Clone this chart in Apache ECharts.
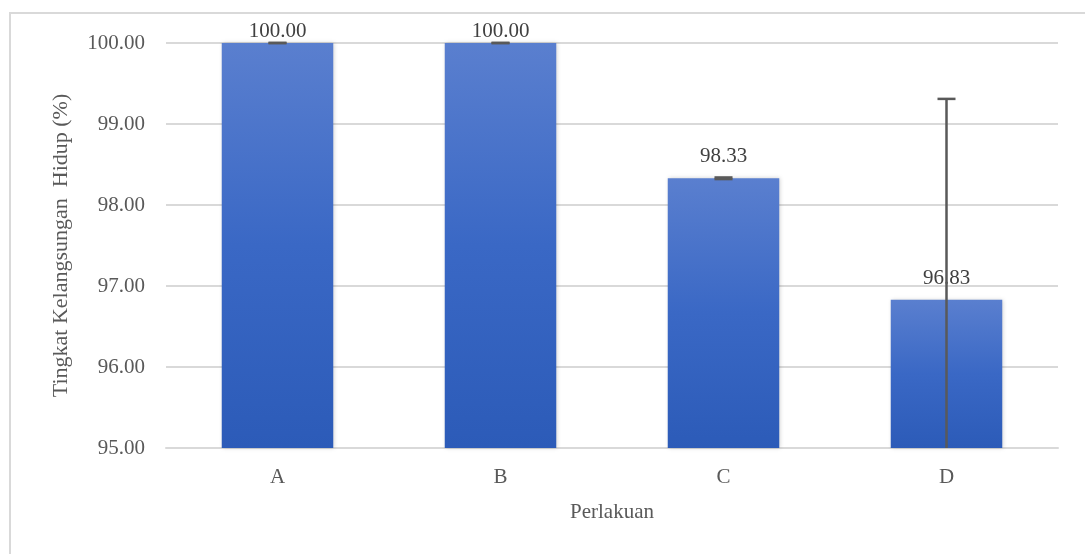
<!DOCTYPE html>
<html>
<head>
<meta charset="utf-8">
<script src="https://cdn.jsdelivr.net/npm/echarts@6/dist/echarts.min.js"></script>
<style>
  html, body { margin: 0; padding: 0; background: #fff; }
  #main { width: 1085px; height: 554px; }
</style>
</head>
<body>
<div id="main"></div>
<script>
// data
var perlakuan = ['A', 'B', 'C', 'D'];
var nilaiSR = [100.00, 100.00, 98.33, 96.83];
var galat = [0, 0, 0.01, 2.48];
var tickY = [95, 96, 97, 98, 99, 100];

var yMin = tickY[0], yMax = tickY[tickY.length - 1];
var fontSerif = '"Liberation Serif", "DejaVu Serif", serif';
var abu = '#595959';

var barData = nilaiSR.map(function (v) {
    return {
        value: v,
        label: { distance: v >= yMax ? 1 : 11 }
    };
});

var errData = nilaiSR.map(function (v, i) {
    return [i, v, galat[i]];
});

function gambarGalat(params, api) { // error bar: garis vertikal + cap atas
    var idx = api.value(0), v = api.value(1), e = api.value(2);
    var atas = api.coord([idx, Math.min(v + e, yMax + 1)]);
    var bawah = api.coord([idx, Math.max(v - e, yMin)]);
    var capW = 9;
    var gaya = { stroke: abu, lineWidth: 2.5 };
    var anak = [{
        type: 'line',
        shape: { x1: atas[0], y1: atas[1], x2: atas[0], y2: bawah[1] },
        style: gaya
    }, {
        type: 'line',
        shape: { x1: atas[0] - capW, y1: atas[1], x2: atas[0] + capW, y2: atas[1] },
        style: gaya
    }];
    if (v - e > yMin) {
        anak.push({
            type: 'line',
            shape: { x1: bawah[0] - capW, y1: bawah[1], x2: bawah[0] + capW, y2: bawah[1] },
            style: gaya
        });
    }
    return { type: 'group', children: anak };
}

var myChart = echarts.init(document.getElementById('main'), null, { renderer: 'canvas' });

var option = {
    backgroundColor: '#fff',
    animation: false,
    graphic: [{
        type: 'rect',
        shape: { x: 10, y: 13, width: 1100, height: 560 },
        style: { fill: 'none', stroke: '#d9d9d9', lineWidth: 2 },
        silent: true
    }],
    grid: { left: 166, right: 27, top: 43, bottom: 106 },
    xAxis: {
        type: 'category',
        data: perlakuan,
        name: 'Perlakuan',
        nameLocation: 'middle',
        nameGap: 54,
        nameTextStyle: { fontFamily: fontSerif, fontSize: 21, color: abu },
        axisLine: { show: true, lineStyle: { color: '#d9d9d9', width: 2 } },
        axisTick: { show: false },
        axisLabel: { fontFamily: fontSerif, fontSize: 21, color: abu, margin: 19 }
    },
    yAxis: {
        type: 'value',
        min: yMin,
        max: yMax,
        interval: 1,
        name: 'Tingkat Kelangsungan  Hidup (%)',
        nameLocation: 'middle',
        nameGap: 94,
        nameTextStyle: { fontFamily: fontSerif, fontSize: 22, color: abu },
        axisLine: { show: false },
        axisTick: { show: false },
        axisLabel: {
            fontFamily: fontSerif, fontSize: 21, color: abu, margin: 21,
            formatter: function (v) { return v.toFixed(2); }
        },
        splitLine: { lineStyle: { color: '#d9d9d9', width: 2 } }
    },
    series: [{
        type: 'bar',
        data: barData,
        barCategoryGap: '50%',
        itemStyle: {
            color: new echarts.graphic.LinearGradient(0, 0, 0, 1, [
                { offset: 0, color: '#5a7fcf' },
                { offset: 0.5, color: '#3a68c5' },
                { offset: 1, color: '#2c5bb8' }
            ]),
            shadowColor: 'rgba(0,0,0,0.18)',
            shadowBlur: 4,
            shadowOffsetX: 1
        },
        label: {
            show: true,
            position: 'top',
            fontFamily: fontSerif,
            fontSize: 21,
            color: '#404040',
            formatter: function (p) { return p.value.toFixed(2); }
        },
        z: 2
    }, {
        type: 'custom',
        data: errData,
        renderItem: gambarGalat,
        clip: false,
        z: 5
    }]
};

myChart.setOption(option);
</script>
</body>
</html>
